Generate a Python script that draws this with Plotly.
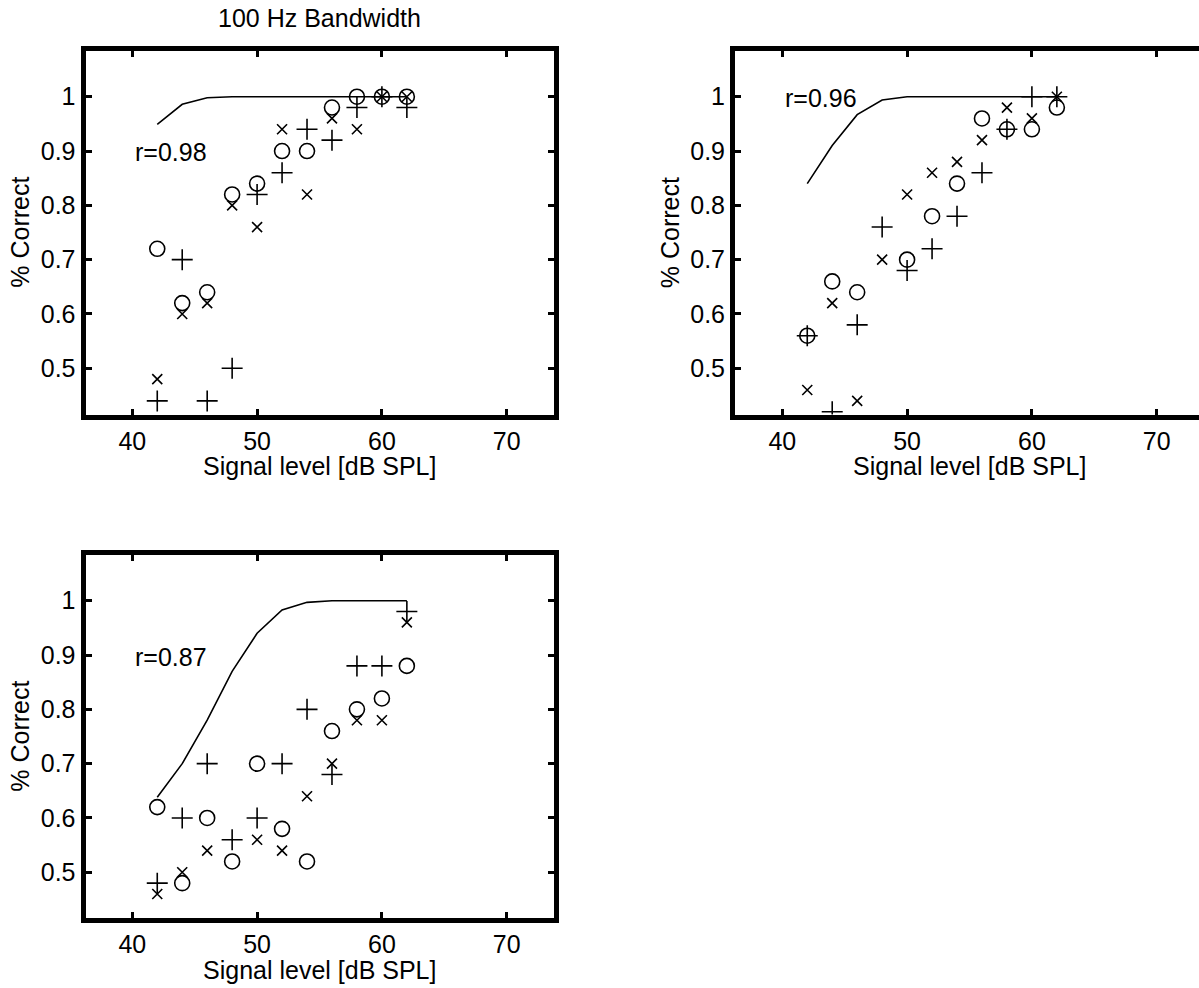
import plotly.graph_objects as go

# Signal levels (dB SPL) shared by every panel
levels = [42, 44, 46, 48, 50, 52, 54, 56, 58, 60, 62]

# Panel A
a_circle = [0.72, 0.62, 0.64, 0.82, 0.84, 0.90, 0.90, 0.98, 1.00, 1.00, 1.00]
a_cross = [0.48, 0.60, 0.62, 0.80, 0.76, 0.94, 0.82, 0.96, 0.94, 1.00, 1.00]
a_plus = [0.44, 0.70, 0.44, 0.50, 0.82, 0.86, 0.94, 0.92, 0.98, 1.00, 0.98]
a_model = [0.949, 0.986, 0.998, 1.0, 1.0, 1.0, 1.0, 1.0, 1.0, 1.0, 1.0]
a_r = "r=0.98"

# Panel B
b_circle = [0.56, 0.66, 0.64, None, 0.70, 0.78, 0.84, 0.96, 0.94, 0.94, 0.98]
b_cross = [0.46, 0.62, 0.44, 0.70, 0.82, 0.86, 0.88, 0.92, 0.98, 0.96, 1.00]
b_plus = [0.56, 0.42, 0.58, 0.76, 0.68, 0.72, 0.78, 0.86, 0.94, 1.00, 1.00]
b_model = [0.84, 0.91, 0.967, 0.994, 1.0, 1.0, 1.0, 1.0, 1.0, 1.0, 1.0]
b_r = "r=0.96"

# Panel C
c_circle = [0.62, 0.48, 0.60, 0.52, 0.70, 0.58, 0.52, 0.76, 0.80, 0.82, 0.88]
c_cross = [0.46, 0.50, 0.54, None, 0.56, 0.54, 0.64, 0.70, 0.78, 0.78, 0.96]
c_plus = [0.48, 0.60, 0.70, 0.56, 0.60, 0.70, 0.80, 0.68, 0.88, 0.88, 0.98]
c_model = [0.638, 0.70, 0.78, 0.87, 0.94, 0.983, 0.997, 1.0, 1.0, 1.0, 1.0]
c_r = "r=0.87"

x_ticks = [40, 50, 60, 70]
y_ticks = [0.5, 0.6, 0.7, 0.8, 0.9, 1.0]
y_ticklabels = ["0.5", "0.6", "0.7", "0.8", "0.9", "1"]

W, H = 1199, 988
FONT = "Liberation Sans, Arial, Helvetica, sans-serif"
FS = 25
LW = 5                 # frame thickness
PX_PER_DB = 12.48      # horizontal scale
PX_PER_UNIT = 543.2    # vertical scale (per 1.0 of proportion correct)

fig = go.Figure()

# Frame centre lines (px); x40/y1 give where 40 dB and 1.0 sit on screen
panels = [
    dict(circle=a_circle, cross=a_cross, plus=a_plus, model=a_model, r=a_r,
         r_y=0.898, xa="x", ya="y", left=83, right=556.5, top=48.5, bottom=417,
         x40=132.3, y1=96.7, closed=True),
    dict(circle=b_circle, cross=b_cross, plus=b_plus, model=b_model, r=b_r,
         r_y=0.997, xa="x2", ya="y2", left=732.5, right=1206.6, top=48.5,
         bottom=417, x40=782.3, y1=96.7, closed=False),
    dict(circle=c_circle, cross=c_cross, plus=c_plus, model=c_model, r=c_r,
         r_y=0.897, xa="x3", ya="y3", left=83, right=556.5, top=552.7,
         bottom=920.7, x40=132.3, y1=600.7, closed=True),
]

for i, p in enumerate(panels):
    common = dict(xaxis=p["xa"], yaxis=p["ya"], showlegend=False, hoverinfo="skip")
    fig.add_trace(go.Scatter(x=levels, y=p["model"], mode="lines",
                             line=dict(color="black", width=1.6), **common))
    fig.add_trace(go.Scatter(x=levels, y=p["circle"], mode="markers",
                             marker=dict(symbol="circle-open", size=15,
                                         color="black",
                                         line=dict(color="black", width=1.6)),
                             **common))
    fig.add_trace(go.Scatter(x=levels, y=p["cross"], mode="markers",
                             marker=dict(symbol="x-thin-open", size=10,
                                         color="black",
                                         line=dict(color="black", width=1.6)),
                             **common))
    fig.add_trace(go.Scatter(x=levels, y=p["plus"], mode="markers",
                             marker=dict(symbol="cross-thin-open", size=15,
                                         color="black",
                                         line=dict(color="black", width=1.6)),
                             **common))

    suffix = "" if i == 0 else str(i + 1)
    # plot area sits inside the frame lines
    in_l = p["left"] + LW / 2
    in_r = min(p["right"] - LW / 2, W)
    in_t = p["top"] + LW / 2
    in_b = p["bottom"] - LW / 2
    x_lo = 40 - (p["x40"] - in_l) / PX_PER_DB
    x_hi = 40 + (in_r - p["x40"]) / PX_PER_DB
    y_hi = 1 + (p["y1"] - in_t) / PX_PER_UNIT
    y_lo = 1 - (in_b - p["y1"]) / PX_PER_UNIT

    axis_style = dict(showline=True, linecolor="black", linewidth=LW,
                      ticks="inside", ticklen=6, tickwidth=3, tickcolor="black",
                      showgrid=False, zeroline=False,
                      tickfont=dict(family=FONT, size=FS, color="black"))
    fig.layout["xaxis" + suffix] = dict(
        domain=[in_l / W, in_r / W], range=[x_lo, x_hi], anchor="y" + suffix,
        tickvals=x_ticks, mirror="ticks", **axis_style)
    fig.layout["yaxis" + suffix] = dict(
        domain=[(H - in_b) / H, (H - in_t) / H], range=[y_lo, y_hi],
        anchor="x" + suffix, tickvals=y_ticks, ticktext=y_ticklabels,
        mirror="ticks" if p["closed"] else False, **axis_style)

    # correlation label
    fig.add_annotation(x=40.05, y=p["r_y"], xref=p["xa"], yref=p["ya"],
                       text=p["r"], showarrow=False, xanchor="left",
                       yanchor="middle",
                       font=dict(family=FONT, size=FS, color="black"))
    # axis titles
    cx = (p["left"] + p["right"]) / 2
    fig.add_annotation(x=cx / W, y=1 - (p["bottom"] + 49) / H, xref="paper",
                       yref="paper", text="Signal level [dB SPL]",
                       showarrow=False, xanchor="center", yanchor="middle",
                       font=dict(family=FONT, size=FS, color="black"))
    fig.add_annotation(x=(p["left"] - 63) / W,
                       y=1 - (p["top"] + p["bottom"]) / 2 / H,
                       xref="paper", yref="paper", text="% Correct",
                       textangle=-90, showarrow=False, xanchor="center",
                       yanchor="middle",
                       font=dict(family=FONT, size=FS, color="black"))

fig.add_annotation(x=(83 + 556.5) / 2 / W, y=1 - 18 / H, xref="paper",
                   yref="paper", text="100 Hz Bandwidth", showarrow=False,
                   xanchor="center", yanchor="middle",
                   font=dict(family=FONT, size=FS, color="black"))

fig.update_layout(width=W, height=H, margin=dict(l=0, r=0, t=0, b=0),
                  paper_bgcolor="white", plot_bgcolor="white")

fig.write_html("out.html")
